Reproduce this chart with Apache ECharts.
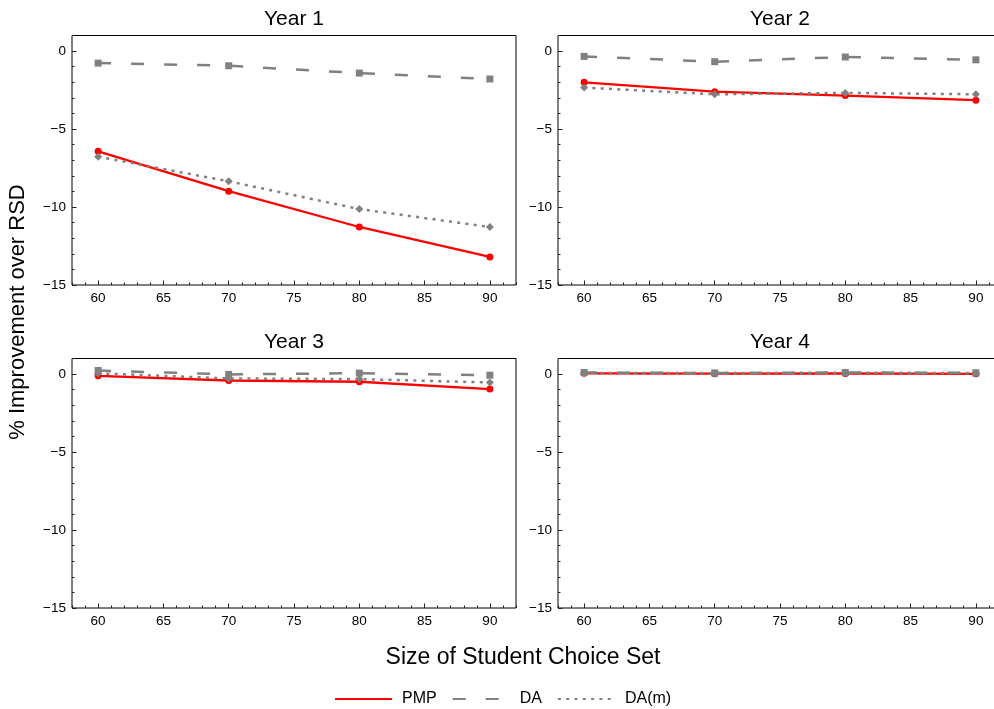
<!DOCTYPE html>
<html>
<head>
<meta charset="utf-8">
<script src="https://cdn.jsdelivr.net/npm/echarts@6/dist/echarts.min.js"></script>
<style>
html,body{margin:0;padding:0;background:#fff;}
#chart{width:994px;height:709px;}
</style>
</head>
<body>
<div id="chart"></div>
<script>
// ---- data ----
const xValues = [60, 70, 80, 90];
const panelTitles = ['Year 1', 'Year 2', 'Year 3', 'Year 4'];
const seriesNames = ['PMP', 'DA', 'DA(m)'];
const xTickLabels = [60, 65, 70, 75, 80, 85, 90];
const yTickLabels = [-15, -10, -5, 0];

const pmpYear1 = [-6.43, -8.98, -11.28, -13.2];
const daYear1 = [-0.77, -0.94, -1.41, -1.79];
const damYear1 = [-6.77, -8.35, -10.13, -11.28];

const pmpYear2 = [-2.0, -2.6, -2.85, -3.15];
const daYear2 = [-0.34, -0.68, -0.38, -0.56];
const damYear2 = [-2.34, -2.77, -2.68, -2.77];

const pmpYear3 = [-0.11, -0.41, -0.49, -0.96];
const daYear3 = [0.23, -0.02, 0.06, -0.07];
const damYear3 = [0.05, -0.28, -0.32, -0.54];

const pmpYear4 = [0.05, 0.03, 0.04, 0.02];
const daYear4 = [0.1, 0.07, 0.1, 0.08];
const damYear4 = [0.08, 0.06, 0.09, 0.07];

// ---- layout / style ----
const FONT = "'Liberation Sans', Arial, sans-serif";
const panels = [
  {left: 72, top: 35.5, pmp: pmpYear1, da: daYear1, dam: damYear1},
  {left: 558, top: 35.5, pmp: pmpYear2, da: daYear2, dam: damYear2},
  {left: 72, top: 358.5, pmp: pmpYear3, da: daYear3, dam: damYear3},
  {left: 558, top: 358.5, pmp: pmpYear4, da: daYear4, dam: damYear4}
];
const W = 444, H = 249.5;
const RED = '#ff0000', GRAY = '#808080';
const styles = {
  'PMP': {lineStyle: {color: RED, width: 2.3, type: 'solid'}, symbol: 'circle', symbolSize: 7, color: RED},
  'DA': {lineStyle: {color: GRAY, width: 2.5, type: [13, 20]}, symbol: 'rect', symbolSize: 7, color: GRAY},
  'DA(m)': {lineStyle: {color: GRAY, width: 2.5, type: [3, 5.3]}, symbol: 'diamond', symbolSize: 8, color: GRAY}
};

const grid = [], xAxis = [], yAxis = [], series = [], graphic = [];

panels.forEach((p, g) => {
  grid.push({left: p.left, top: p.top, width: W, height: H, show: true,
    containLabel: false, outerBoundsMode: 'none',
    borderColor: '#000', borderWidth: 1, backgroundColor: 'transparent'});
  // minor x axis
  xAxis.push({gridIndex: g, type: 'value', position: 'bottom', offset: 0, min: 58, max: 92, interval: 1,
    axisLine: {show: false, onZero: false}, splitLine: {show: false}, axisLabel: {show: false},
    axisTick: {show: true, inside: true, length: 2.5, lineStyle: {color: '#222', width: 1}}});
  // major x axis
  xAxis.push({gridIndex: g, type: 'value', position: 'bottom', offset: 0, min: 58, max: 92,
    axisLine: {show: false, onZero: false}, splitLine: {show: false},
    axisTick: {show: true, inside: true, length: 4.5, customValues: xTickLabels, lineStyle: {color: '#222', width: 1}},
    axisLabel: {show: true, customValues: xTickLabels, margin: 6, color: '#000', fontSize: 13.5, fontFamily: FONT}});
  // minor y axis
  yAxis.push({gridIndex: g, type: 'value', position: 'left', offset: 0, min: -15, max: 1, interval: 1,
    axisLine: {show: false, onZero: false}, splitLine: {show: false}, axisLabel: {show: false},
    axisTick: {show: true, inside: true, length: 2.5, lineStyle: {color: '#222', width: 1}}});
  // major y axis
  yAxis.push({gridIndex: g, type: 'value', position: 'left', offset: 0, min: -15, max: 1,
    axisLine: {show: false, onZero: false}, splitLine: {show: false},
    axisTick: {show: true, inside: true, length: 4.5, customValues: yTickLabels, lineStyle: {color: '#222', width: 1}},
    axisLabel: {show: true, customValues: yTickLabels, margin: 6, color: '#000', fontSize: 13.5, fontFamily: FONT,
      formatter: v => String(v).replace('-', '\u2212')}});

  const arrs = [p.pmp, p.da, p.dam];
  seriesNames.forEach((n, k) => {
    const s = styles[n];
    series.push({
      name: n, type: 'line', xAxisIndex: 2 * g, yAxisIndex: 2 * g,
      data: xValues.map((x, i) => [x, arrs[k][i]]),
      symbol: s.symbol, symbolSize: s.symbolSize, showSymbol: true,
      lineStyle: s.lineStyle, itemStyle: {color: s.color},
      emphasis: {disabled: true}, animation: false, z: 2 + k
    });
  });

  graphic.push({type: 'text', x: p.left + W / 2, y: p.top - 16.5,
    style: {text: panelTitles[g], font: '21px ' + FONT, fill: '#000',
      align: 'center', verticalAlign: 'middle', textAlign: 'center', textVerticalAlign: 'middle'}});
});

graphic.push({type: 'text', x: 18, y: 312, rotation: Math.PI / 2,
  style: {text: '% Improvement over RSD', font: '22px ' + FONT, fill: '#000',
    align: 'center', verticalAlign: 'middle', textAlign: 'center', textVerticalAlign: 'middle'}});
graphic.push({type: 'text', x: 523, y: 658,
  style: {text: 'Size of Student Choice Set', font: '23px ' + FONT, fill: '#000',
    align: 'center', verticalAlign: 'middle', textAlign: 'center', textVerticalAlign: 'middle'}});

const chart = echarts.init(document.getElementById('chart'), null, {renderer: 'canvas'});
chart.setOption({
  animation: false,
  backgroundColor: '#fff',
  grid, xAxis, yAxis, series, graphic,
  legend: {
    data: seriesNames, left: 329, top: 686, itemWidth: 57, itemHeight: 14, itemGap: 15,
    itemStyle: {opacity: 0},
    textStyle: {fontSize: 16, fontFamily: FONT, color: '#000', padding: [0, 0, 0, 5]}
  }
});
</script>
</body>
</html>
